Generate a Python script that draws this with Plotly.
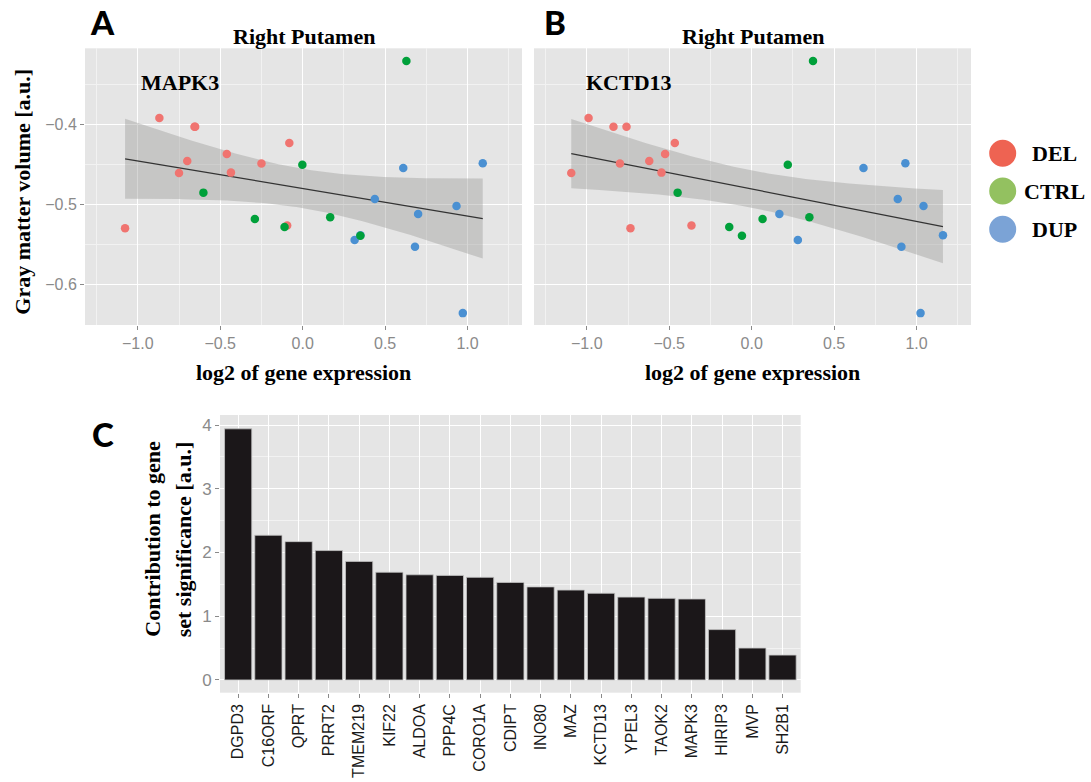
import numpy as np
import plotly.graph_objects as go

# ---------------- data ----------------
# Gray matter volume (same subjects in panels A and B)
gmv_del = [-0.4603, -0.3914, -0.4023, -0.4023, -0.4486, -0.4453, -0.4599, -0.4365, -0.4228, -0.5296, -0.5263]
a_del_x = [-0.750, -0.869, -0.656, -0.652, -0.250, -0.700, -0.435, -0.460, -0.081, -1.077, -0.094]
b_del_x = [-1.094, -0.989, -0.838, -0.759, -0.799, -0.621, -0.547, -0.525, -0.466, -0.735, -0.365]

gmv_ctrl = [-0.320, -0.4499, -0.485, -0.518, -0.528, -0.516, -0.539]
a_ctrl_x = [0.629, -0.002, -0.602, -0.290, -0.110, 0.167, 0.350]
b_ctrl_x = [0.372, 0.219, -0.449, 0.066, -0.136, 0.350, -0.059]

gmv_dup = [-0.4541, -0.4482, -0.4929, -0.5017, -0.5117, -0.5445, -0.553, -0.5384, -0.6361]
a_dup_x = [0.610, 1.092, 0.4375, 0.933, 0.700, 0.315, 0.681, 0.350, 0.971]
b_dup_x = [0.678, 0.932, 0.886, 1.042, 0.168, 0.280, 0.908, 1.160, 1.024]

genes = ["DGPD3", "C16ORF", "QPRT", "PRRT2", "TMEM219", "KIF22", "ALDOA", "PPP4C", "CORO1A",
         "CDIPT", "INO80", "MAZ", "KCTD13", "YPEL3", "TAOK2", "MAPK3", "HIRIP3", "MVP", "SH2B1"]
contrib = [3.94, 2.27, 2.17, 2.03, 1.86, 1.69, 1.65, 1.64, 1.61,
           1.53, 1.46, 1.41, 1.36, 1.30, 1.28, 1.27, 0.79, 0.50, 0.39]

groups = ["DEL", "CTRL", "DUP"]
point_colors = {"DEL": "#F07470", "CTRL": "#00A03A", "DUP": "#4A90D2"}
legend_colors = {"DEL": "#EE6352", "CTRL": "#93C160", "DUP": "#7BA3D6"}

W, H = 1091, 782
def px(x): return x / W
def py(y): return 1 - y / H

SERIF = "Liberation Serif, Times New Roman, serif"
SANS = "Liberation Sans, Arial, sans-serif"
GRAY = "#8a8a8a"

def lm_band(x, y, n=120):
    x = np.asarray(x, float); y = np.asarray(y, float)
    b1, b0 = np.polyfit(x, y, 1)
    xs = np.linspace(x.min(), x.max(), n)
    yh = b0 + b1 * xs
    res = y - (b0 + b1 * x)
    s = np.sqrt(np.sum(res ** 2) / (len(x) - 2))
    se = s * np.sqrt(1 / len(x) + (xs - x.mean()) ** 2 / np.sum((x - x.mean()) ** 2))
    t = 2.0595
    return xs, yh, yh - t * se, yh + t * se

fig = go.Figure()

panels = [
    ("x", "y", {"DEL": a_del_x, "CTRL": a_ctrl_x, "DUP": a_dup_x}),
    ("x2", "y2", {"DEL": b_del_x, "CTRL": b_ctrl_x, "DUP": b_dup_x}),
]
gmv = {"DEL": gmv_del, "CTRL": gmv_ctrl, "DUP": gmv_dup}

for xa, ya, xs_map in panels:
    allx = xs_map["DEL"] + xs_map["CTRL"] + xs_map["DUP"]
    ally = gmv["DEL"] + gmv["CTRL"] + gmv["DUP"]
    xs, yh, lo, hi = lm_band(allx, ally)
    fig.add_trace(go.Scatter(x=np.concatenate([xs, xs[::-1]]), y=np.concatenate([hi, lo[::-1]]),
                             fill="toself", fillcolor="rgba(153,153,150,0.4)", line=dict(width=0),
                             mode="lines", hoverinfo="skip", showlegend=False, xaxis=xa, yaxis=ya))
    fig.add_trace(go.Scatter(x=xs, y=yh, mode="lines", line=dict(color="#333333", width=1.2),
                             showlegend=False, xaxis=xa, yaxis=ya))
    for g in ["DEL", "DUP", "CTRL"]:
        fig.add_trace(go.Scatter(x=xs_map[g], y=gmv[g], mode="markers",
                                 marker=dict(color=point_colors[g], size=8.5, line=dict(width=0)),
                                 showlegend=False, xaxis=xa, yaxis=ya))

fig.add_trace(go.Bar(x=genes, y=contrib, width=0.9,
                     marker=dict(color="#1b1719", line=dict(color="#c4c4c4", width=0.8)),
                     showlegend=False, xaxis="x3", yaxis="y3"))

xr = dict(range=[-1.32, 1.33], tickvals=[-1, -0.5, 0, 0.5, 1], tickformat=".1f",
          showgrid=True, gridcolor="white", gridwidth=1.3, zeroline=False, showline=False,
          minor=dict(tickvals=[-1.25, -0.75, -0.25, 0.25, 0.75, 1.25], showgrid=True,
                     gridcolor="#f2f2f2", gridwidth=0.6, ticks=""),
          ticks="outside", ticklen=4, tickcolor=GRAY, automargin=False,
          tickfont=dict(family=SANS, size=16, color=GRAY))
yr = dict(range=[-0.651, -0.304], tickvals=[-0.6, -0.5, -0.4], tickformat=".1f",
          showgrid=True, gridcolor="white", gridwidth=1.3, zeroline=False, showline=False,
          minor=dict(tickvals=[-0.65, -0.55, -0.45, -0.35], showgrid=True,
                     gridcolor="#f2f2f2", gridwidth=0.6, ticks=""),
          ticks="outside", ticklen=4, tickcolor=GRAY, automargin=False,
          tickfont=dict(family=SANS, size=16, color=GRAY))

ydom = [py(325), py(48.3)]
fig.update_layout(
    width=W, height=H, margin=dict(l=0, r=0, t=0, b=0, autoexpand=False),
    paper_bgcolor="white", plot_bgcolor="#E5E5E5",
    xaxis=dict(domain=[px(85), px(522)], anchor="y", **xr),
    yaxis=dict(domain=ydom, anchor="x", **yr),
    xaxis2=dict(domain=[px(534), px(971)], anchor="y2", **xr),
    yaxis2=dict(domain=ydom, anchor="x2", **{**yr, "showticklabels": False, "ticks": ""}),
    xaxis3=dict(domain=[px(220), px(800.7)], anchor="y3", type="category",
                categoryorder="array", categoryarray=genes, range=[-0.6, 18.6],
                tickangle=-90, showgrid=True, gridcolor="white", gridwidth=1.3,
                ticks="outside", ticklen=4, tickcolor=GRAY, automargin=False,
                tickfont=dict(family=SANS, size=16, color="#1a1a1a")),
    yaxis3=dict(domain=[py(692.7), py(415)], anchor="x3", range=[-0.2, 4.157],
                tickvals=[0, 1, 2, 3, 4], showgrid=True, gridcolor="white", gridwidth=1.3,
                zeroline=False, automargin=False,
                minor=dict(tickvals=[0.5, 1.5, 2.5, 3.5], showgrid=True, gridcolor="#f2f2f2",
                           gridwidth=0.6, ticks=""),
                ticks="outside", ticklen=4, tickcolor=GRAY,
                tickfont=dict(family="Liberation Sans Narrow, " + SANS, size=17, color=GRAY)),
)

ann = []
def text(x, y, s, size=22, angle=0, family=SERIF, weight="bold", color="black", xref="paper", yref="paper"):
    ann.append(dict(x=x, y=y, xref=xref, yref=yref, text=s, showarrow=False, textangle=angle,
                    font=dict(family=family, size=size, color=color, weight=weight),
                    xanchor="center", yanchor="middle"))

# panel letters
LET = "Lato, DejaVu Sans, sans-serif"
for letter, (cx, cy) in {"A": (102, 22), "B": (554.5, 22), "C": (102.5, 434)}.items():
    ann.append(dict(x=px(cx), y=py(cy), xref="paper", yref="paper", text=letter, showarrow=False,
                    font=dict(family=LET, size=33, color="black", weight=900),
                    xanchor="center", yanchor="middle"))

text(px(303.5), py(37), "Right Putamen")
text(px(752.5), py(37), "Right Putamen")
text(-0.744, -0.347, "MAPK3", xref="x", yref="y")
text(-0.744, -0.347, "KCTD13", xref="x2", yref="y2")
text(px(303.5), py(372), "log2 of gene expression")
text(px(752.5), py(372), "log2 of gene expression")
text(px(21.7), py(192), "Gray matter volume [a.u.]", angle=-90)
text(px(151.7), py(539), "Contribution to gene", angle=-90)
text(px(183.3), py(539), "set significance [a.u.]", angle=-90)

# legend
shapes = []
for i, g in enumerate(groups):
    cy = [153.3, 191.0, 229.3][i]
    r = 13.5
    shapes.append(dict(type="circle", xref="paper", yref="paper",
                       x0=px(1002.7 - r), x1=px(1002.7 + r), y0=py(cy + r), y1=py(cy - r),
                       fillcolor=legend_colors[g], line=dict(width=0)))
    text(px(1054), py(cy), g)

fig.update_layout(annotations=ann, shapes=shapes)
fig.write_html("out.html")
